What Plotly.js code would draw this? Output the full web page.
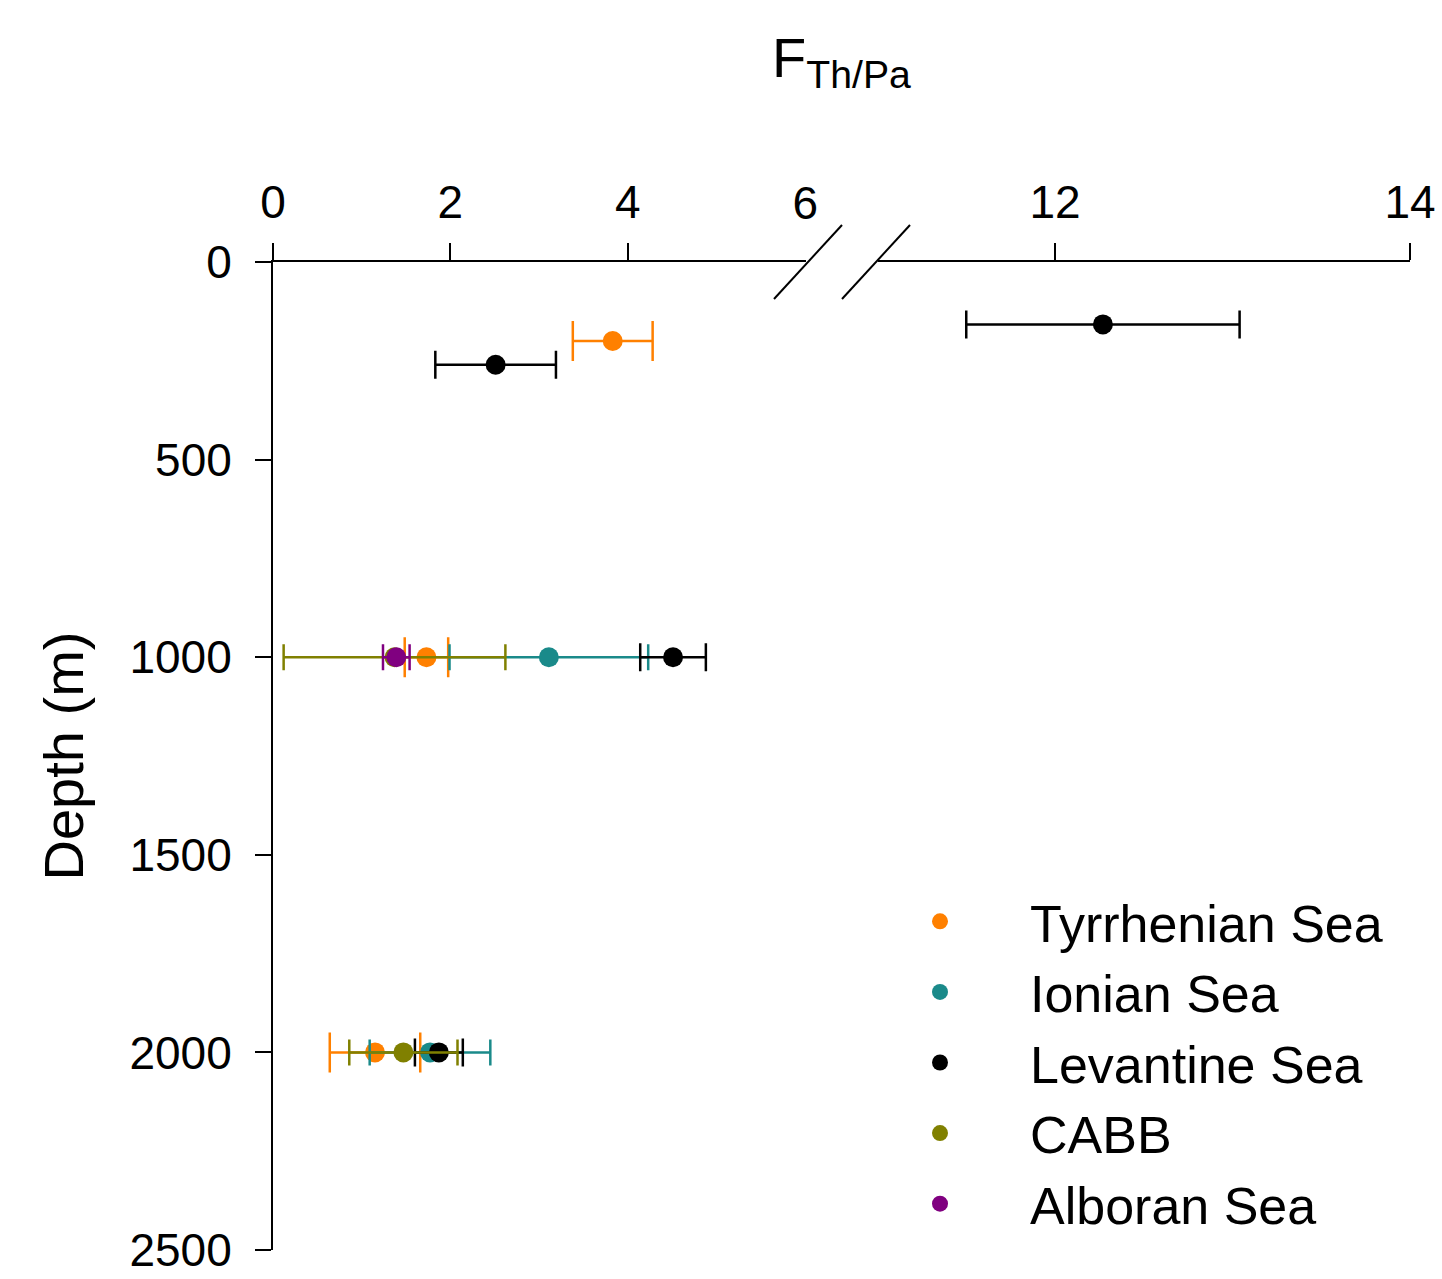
<!DOCTYPE html>
<html>
<head>
<meta charset="utf-8">
<script src="https://cdn.plot.ly/plotly-3.0.1.min.js"></script>
<style>html,body{margin:0;padding:0;background:#fff;}#chart{width:1442px;height:1279px;}</style>
</head>
<body>
<div id="chart"></div>
<script>
// ---- Data (F Th/Pa vs depth) ----
const seriesNames = ["Tyrrhenian Sea", "Ionian Sea", "Levantine Sea", "CABB", "Alboran Sea"];
const seriesColors = ["#FF8000", "#1A8A8A", "#000000", "#808000", "#800080"];

const tyrDepth = [200, 1000, 2000];
const tyrF     = [3.83, 1.73, 1.15];
const tyrErr   = [0.45, 0.245, 0.51];

const ionDepth = [1000, 2000];
const ionF     = [3.11, 1.77];
const ionErr   = [1.12, 0.68];

const levDepth = [158, 260, 1000, 2000];
const levF     = [12.27, 2.51, 4.51, 1.87];
const levErr   = [0.77, 0.68, 0.37, 0.27];

const cabbDepth = [1000, 2000];
const cabbF     = [1.37, 1.47];
const cabbErr   = [1.25, 0.61];

const albDepth = [1000];
const albF     = [1.39];
const albErr   = [0.15];

const xTicksLow  = [0, 2, 4];
const xTickBreak = [6];
const xTicksHigh = [12, 14];
const yTicks     = [0, 500, 1000, 1500, 2000, 2500];
const breakValue = 8; // values above this go on the right-hand (broken) axis

const series = [
  {d: tyrDepth, f: tyrF, e: tyrErr, cap: 20},
  {d: ionDepth, f: ionF, e: ionErr, cap: 13},
  {d: levDepth, f: levF, e: levErr, cap: 14},
  {d: cabbDepth, f: cabbF, e: cabbErr, cap: 13},
  {d: albDepth, f: albF, e: albErr, cap: 13}
];

const FONT = "Liberation Sans, Arial, Helvetica, sans-serif";
const traces = [];
series.forEach((s, i) => {
  const low = {x: [], y: [], e: []}, high = {x: [], y: [], e: []};
  s.f.forEach((v, k) => {
    const tgt = v > breakValue ? high : low;
    tgt.x.push(v); tgt.y.push(s.d[k]); tgt.e.push(s.e[k]);
  });
  const mk = (pts, xa, show) => ({
    type: "scatter", mode: "markers",
    x: pts.x, y: pts.y, xaxis: xa, yaxis: "y",
    name: seriesNames[i], showlegend: show, legendgroup: seriesNames[i],
    marker: {color: seriesColors[i], size: 20, line: {width: 0}},
    error_x: {type: "data", array: pts.e, symmetric: true, visible: true,
              color: seriesColors[i], thickness: 2.5, width: s.cap},
    cliponaxis: false, hoverinfo: "x+y+name"
  });
  traces.push(mk(low, "x", true));
  if (high.x.length) traces.push(mk(high, "x2", false));
});
// empty helper trace so the overlay axis carrying the "6" label is drawn
traces.push({type: "scatter", mode: "markers", x: [], y: [], xaxis: "x3", yaxis: "y", showlegend: false, hoverinfo: "skip"});

const L = 273, R = 1410, T = 262, B = 1250;
const W = R - L, H = B - T;
const px = v => (v - L) / W;
const py = v => (B - v) / H;

const breakLine = {color: "#000", width: 2};
const shapes = [
  {type: "line", xref: "paper", yref: "paper", x0: px(774), y0: py(299), x1: px(842), y1: py(225), line: breakLine},
  {type: "line", xref: "paper", yref: "paper", x0: px(842), y0: py(299), x1: px(910), y1: py(225), line: breakLine}
];

const axBase = {
  showgrid: false, zeroline: false, showline: true, linecolor: "#000", linewidth: 2,
  ticks: "outside", ticklen: 17, tickwidth: 2, tickcolor: "#000",
  tickfont: {family: FONT, size: 46, color: "#000"}, side: "top", anchor: "y", fixedrange: true,
  ticklabeloverflow: "allow", ticklabelstandoff: 7
};
const lowRange = [0, (806 - L) / 88.7];

const layout = {
  width: 1442, height: 1279,
  margin: {l: L, r: 1442 - R, t: T, b: 1279 - B},
  paper_bgcolor: "#fff", plot_bgcolor: "#fff",
  font: {family: FONT, color: "#000"},
  title: {text: "F<sub>Th/Pa</sub>", font: {family: FONT, size: 56, color: "#000"},
          x: 0.5, xref: "paper", xanchor: "center", y: 1 - 57 / 1279, yref: "container", yanchor: "middle"},
  xaxis: Object.assign({}, axBase, {domain: [0, px(806)], range: lowRange, tickvals: xTicksLow}),
  xaxis3: Object.assign({}, axBase, {overlaying: "x", showline: false, range: lowRange,
                                     tickvals: xTickBreak, tickcolor: "rgba(0,0,0,0)"}),
  xaxis2: Object.assign({}, axBase, {domain: [px(878), 1], range: [12 - (1055 - 878) / 177.5, 14], tickvals: xTicksHigh}),
  yaxis: {
    domain: [0, 1], range: [2500, 0], anchor: "x", side: "left",
    showgrid: false, zeroline: false, showline: true, linecolor: "#000", linewidth: 2,
    ticks: "outside", ticklen: 16, tickwidth: 2, tickcolor: "#000",
    tickvals: yTicks, tickfont: {family: FONT, size: 46, color: "#000"},
    ticklabelstandoff: 14, ticklabeloverflow: "allow",
    title: {text: "Depth (m)", font: {family: FONT, size: 56, color: "#000"}, standoff: 28},
    fixedrange: true
  },
  legend: {
    x: px(850), y: py(881), xanchor: "left", yanchor: "top",
    font: {family: FONT, size: 52, color: "#000"},
    bgcolor: "rgba(0,0,0,0)", borderwidth: 0, itemwidth: 170, tracegroupgap: 0
  },
  shapes: shapes,
  showlegend: true
};

Plotly.newPlot("chart", traces, layout, {displayModeBar: false, staticPlot: true});
</script>
</body>
</html>
